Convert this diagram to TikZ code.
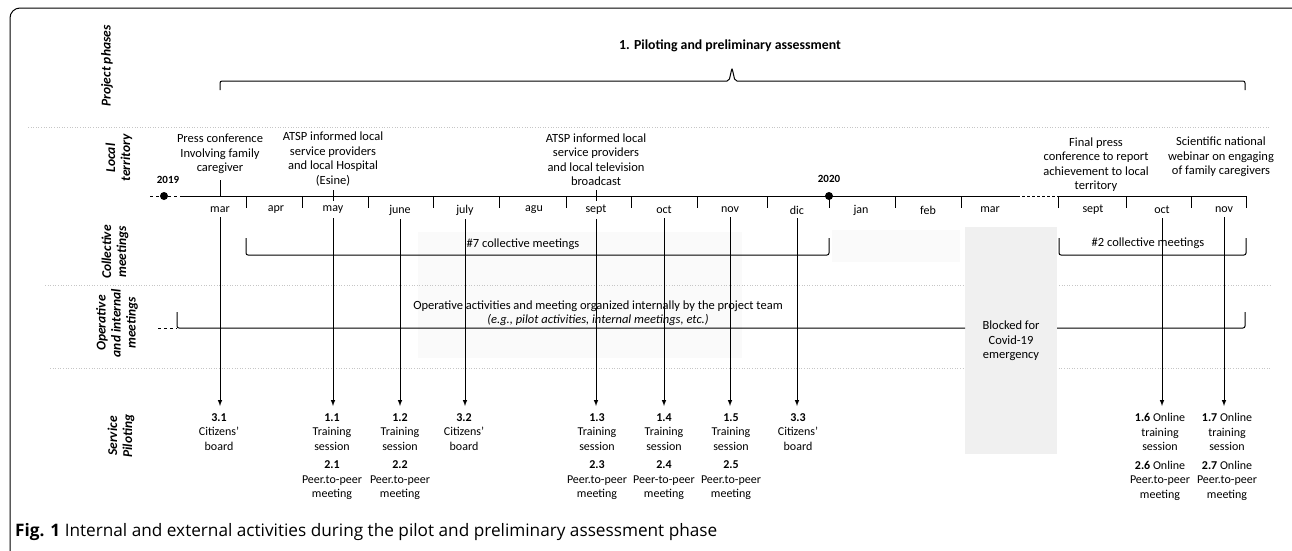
\documentclass[tikz,border=0pt]{standalone}
\usepackage{fontspec}
\setmainfont{Carlito}
\newfontfamily\capfont{Open Sans}
\usetikzlibrary{positioning,calc}

\tikzset{
  rowlab/.style={rotate=90,align=center,font=\fontsize{13.5}{15}\selectfont\bfseries\itshape},
  month/.style={font=\fontsize{12}{13}\selectfont,inner sep=1pt},
  note/.style={align=center,font=\fontsize{12.5}{14.5}\selectfont,inner sep=1pt},
  act/.style={align=center,anchor=north,font=\fontsize{12}{14.5}\selectfont,inner xsep=1pt,inner ysep=7pt},
  year/.style={font=\fontsize{11}{12}\selectfont\bfseries,inner sep=1pt},
  sepline/.style={gray!45,dotted,line width=0.6pt},
  tline/.style={line width=1pt},
}

\begin{document}
\begin{tikzpicture}[x=1pt,y=-1pt,>=latex]
\useasboundingbox (0,0) rectangle (1292,550);
\clip (0,0) rectangle (1292,550);

% frame and shaded areas
\draw[line width=1pt,rounded corners=10pt] (10,8) rectangle (1310,570);
\fill[gray!4] (418,232) rectangle (742,358);
\fill[gray!4] (832,230) rectangle (960,262);

\draw[sepline] (28,127) -- (1270,127);
\draw[sepline] (45,285) -- (1270,285);
\draw[sepline] (50,368) -- (1270,368);
\fill[gray!12] (965,227) rectangle (1057,454);

% row labels
\node[rowlab] (rPhase) at (107,66) {Project phases};
\node[rowlab] (rLocal) at (119,158) {Local\\territory};
\node[rowlab] (rColl) at (115,252) {Collective\\meetings};
\node[rowlab] (rOper) at (117,323) {Operative\\and internal\\meetings};
\node[rowlab] (rServ) at (121,436) {Service\\Piloting};

% project phase
\node[font=\fontsize{13.8}{16}\selectfont\bfseries] (phase) at (730,46) {1. Piloting and preliminary assessment};
\draw[tline,rounded corners=2pt] (220,90) |- (729,81) -- (732,68) -- (735,81) -| (1245,90);

% time line
\draw[tline,dashed] (150,196) -- (180,196);
\fill (164,196) circle (4pt);
\node[year] (y2019) at (168,180) {2019};
\draw[tline] (180,196) -- (1017,196);
\draw[tline,densely dashed] (1017,196) -- (1058,196);
\draw[tline] (1058,208) -- (1058,196) -- (1246,196) -- (1246,208);
\foreach \x in {246,302,368,433,499,566,631,697,767,829,895,961,1126,1191}
  \draw[tline] (\x,196) -- (\x,208);
\fill (829,196) circle (4pt);
\node[year] (y2020) at (829,179) {2020};

\foreach \x/\m/\n in {220/mar/mMar,276/apr/mApr,333/may/mMay,400/june/mJune,465/july/mJuly,534/agu/mAgu,596/sept/mSept,664/oct/mOct,730/nov/mNov,797/dic/mDic,861/jan/mJan,928/feb/mFeb,990/mar/mMarB,1093/sept/mSeptB,1162/oct/mOctB,1224/nov/mNovB}
  \node[month] (\n) at (\x,210) {\m};

% local territory
\node[note,anchor=south] (nPress) at (220,175) {Press conference\\Involving family\\caregiver};
\node[note,anchor=south] (nEsine) at (333,187) {ATSP informed local\\service providers\\and local Hospital\\(Esine)};
\node[note,anchor=south] (nTV) at (596,187) {ATSP informed local\\service providers\\and local television\\broadcast};
\node[note,anchor=south] (nFinal) at (1096,193) {Final press\\conference to report\\achievement to local\\territory};
\node[note,anchor=south] (nWebinar) at (1221,178) {Scientific national\\webinar on engaging\\of family caregivers};
\coordinate (axMar) at (220,196);
\draw[tline] (nPress.south) ++(0,5) -- (axMar);
\draw[tline] (nEsine.south) ++(0,3) -- ++(0,11);
\draw[tline] (nTV.south) ++(0,3) -- ++(0,11);

% collective meetings
\draw[tline,rounded corners=2pt] (246,238) |- (829,255) -- (829,238);
\node[note] (c7) at (523,244) {\#7 collective meetings};
\draw[tline,rounded corners=2pt] (1059,238) |- (1246,255) -- (1246,238);
\node[note] (c2) at (1148,243) {\#2 collective meetings};

% operative and internal meetings
\draw[tline,dashed] (158,328) -- (177,328);
\draw[tline,rounded corners=2pt] (177,312) |- (965,328);
\draw[tline,rounded corners=2pt] (1057,328) -| (1245,312);
\node[note] (oper) at (598,313) {Operative activities and meeting organized internally by the project team\\\textit{(e.g., pilot activities, internal meetings, etc.)}};
\node[note] (covid) at (1011,341) {Blocked for\\Covid-19\\emergency};

% service piloting
\node[act] (s31) at (219,406) {\textbf{3.1}\\Citizens'\\board};
\node[act] (s11) at (332,406) {\textbf{1.1}\\Training\\session\\[4pt]\textbf{2.1}\\Peer.to-peer\\meeting};
\node[act] (s12) at (400,406) {\textbf{1.2}\\Training\\session\\[4pt]\textbf{2.2}\\Peer.to-peer\\meeting};
\node[act] (s32) at (464,406) {\textbf{3.2}\\Citizens'\\board};
\node[act] (s13) at (597,406) {\textbf{1.3}\\Training\\session\\[4pt]\textbf{2.3}\\Peer.to-peer\\meeting};
\node[act] (s14) at (664,406) {\textbf{1.4}\\Training\\session\\[4pt]\textbf{2.4}\\Peer-to-peer\\meeting};
\node[act] (s15) at (731,406) {\textbf{1.5}\\Training\\session\\[4pt]\textbf{2.5}\\Peer.to-peer\\meeting};
\node[act] (s33) at (798,406) {\textbf{3.3}\\Citizens'\\board};
\node[act] (s16) at (1160,406) {\textbf{1.6} Online\\training\\session\\[4pt]\textbf{2.6} Online\\Peer.to-peer\\meeting};
\node[act] (s17) at (1227,406) {\textbf{1.7} Online\\training\\session\\[4pt]\textbf{2.7} Online\\Peer.to-peer\\meeting};

\foreach \m/\s in {mMar/s31,mMay/s11,mJune/s12,mJuly/s32,mSept/s13,mOct/s14,mNov/s15,mDic/s33,mOctB/s16,mNovB/s17}
  \draw[tline,->] (\m.south) ++(0,3) -- (\m.south |- \s.north);

% caption
\node[anchor=base west,inner sep=0,font=\capfont\fontsize{17.2}{19}\selectfont] (cap) at (15,536) {\textbf{Fig. 1} Internal and external activities during the pilot and preliminary assessment phase};
\end{tikzpicture}
\end{document}
